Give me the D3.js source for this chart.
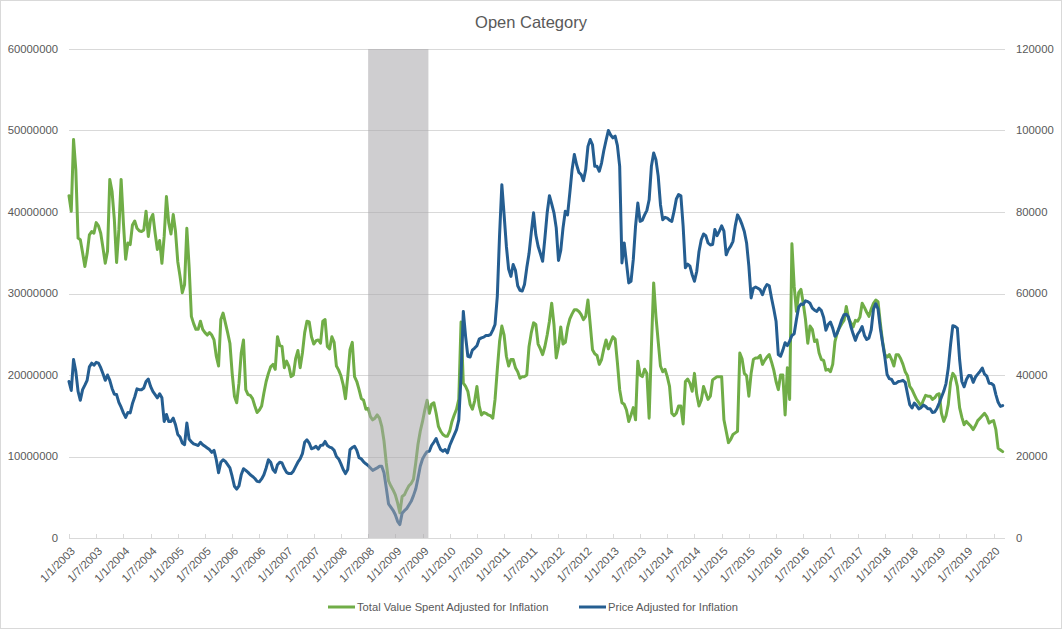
<!DOCTYPE html>
<html>
<head>
<meta charset="utf-8">
<script src="https://cdn.jsdelivr.net/npm/d3@7"></script>
<style>
  html, body { margin: 0; padding: 0; background: #fff; }
  svg { display: block; font-family: "Liberation Sans", Arial, sans-serif; }
</style>
</head>
<body>
<svg id="chart" width="1062" height="629"></svg>
<script>
// ---------------- DATA ----------------
const title = "Open Category";
// Observations are semi-monthly, starting 1 Jan 2003 (index j -> month j/2)
const seriesNames = ["Total Value Spent Adjusted for Inflation", "Price Adjusted for Inflation"];
// Total value spent (millions, left axis)
const totalValueMillions = [
  42.0, 40.1, 48.9, 45.2, 36.8, 36.6, 35.0, 33.3, 34.9, 37.2,
  37.6, 37.4, 38.7, 38.3, 37.4, 35.6, 33.7, 35.2, 44.0, 42.5,
  39.1, 33.8, 37.8, 44.0, 38.7, 34.2, 36.2, 36.0, 38.4, 38.9,
  38.0, 37.7, 37.6, 37.8, 40.1, 37.0, 39.1, 39.7, 37.4, 35.4,
  36.5, 33.7, 37.0, 41.9, 38.7, 37.3, 39.7, 37.6, 33.9, 32.1,
  30.1, 31.1, 38.0, 33.3, 27.2, 26.3, 25.6, 25.6, 26.6, 25.6,
  25.2, 24.9, 25.2, 24.9, 24.3, 22.3, 21.1, 26.8, 27.6, 26.4,
  25.2, 23.9, 20.2, 17.4, 16.6, 19.0, 22.7, 24.3, 18.2, 17.6,
  17.5, 17.1, 16.2, 15.4, 15.7, 16.2, 17.8, 19.2, 20.2, 21.0,
  21.3, 20.7, 24.7, 23.6, 23.5, 20.9, 21.7, 21.1, 19.8, 20.0,
  22.0, 23.0, 20.9, 22.7, 25.2, 26.6, 26.5, 24.7, 23.8, 24.2,
  24.3, 23.9, 26.6, 26.8, 23.5, 23.2, 24.7, 24.0, 21.1, 20.6,
  19.9, 18.8, 17.1, 19.8, 23.1, 24.0, 19.8, 19.2, 18.2, 17.1,
  16.9, 15.8, 15.9, 14.9, 14.5, 14.7, 15.1, 14.7, 13.7, 11.9,
  9.2, 7.0, 6.4, 5.9, 5.3, 4.3, 3.1, 5.1, 5.3, 5.9,
  6.4, 6.7, 7.2, 9.2, 11.5, 13.1, 14.3, 15.7, 16.9, 15.3,
  16.4, 16.6, 15.3, 13.7, 13.1, 12.7, 12.5, 12.5, 13.1, 14.3,
  15.1, 15.8, 17.0, 26.5, 19.0, 18.6, 18.0, 16.4, 15.8, 16.8,
  18.6, 16.2, 15.1, 15.4, 15.3, 15.1, 15.0, 14.7, 17.0, 20.7,
  24.1, 26.0, 24.9, 22.3, 21.1, 21.9, 21.9, 20.9, 20.4, 19.6,
  19.8, 19.8, 20.0, 23.5, 25.2, 26.4, 26.2, 23.8, 23.2, 22.5,
  23.5, 24.9, 26.6, 28.8, 26.2, 22.1, 23.5, 25.9, 23.8, 24.0,
  25.8, 26.9, 27.5, 28.0, 28.0, 27.8, 27.4, 26.8, 27.2, 29.2,
  26.2, 23.1, 22.6, 22.4, 21.3, 21.9, 23.2, 24.3, 23.2, 24.0,
  24.7, 24.4, 21.5, 18.2, 16.6, 16.4, 15.7, 14.3, 15.1, 16.0,
  14.5, 21.7, 20.0, 19.8, 20.7, 20.2, 14.7, 23.5, 31.3, 27.2,
  24.1, 21.1, 20.4, 20.7, 19.8, 18.6, 15.3, 15.0, 15.3, 16.2,
  16.2, 14.0, 19.2, 19.5, 19.0, 18.0, 20.2, 17.6, 16.2, 16.9,
  18.6, 17.8, 17.0, 17.4, 19.4, 19.6, 19.8, 19.8, 19.8, 14.5,
  13.1, 11.7, 12.1, 12.7, 12.9, 13.1, 22.7, 22.0, 20.2, 19.9,
  17.4, 20.2, 21.9, 22.1, 22.1, 22.4, 21.3, 21.8, 22.2, 22.5,
  21.6, 20.6, 19.2, 18.2, 20.0, 20.0, 15.1, 20.9, 17.0, 36.1,
  30.9, 27.8, 30.1, 30.5, 28.8, 26.8, 23.9, 26.0, 25.6, 24.1,
  24.3, 22.7, 21.9, 21.8, 20.6, 20.7, 20.4, 21.3, 24.1, 25.2,
  25.8, 26.3, 26.7, 28.4, 26.9, 26.4, 25.9, 26.7, 26.6, 27.1,
  28.8, 28.3, 27.7, 27.2, 28.1, 28.8, 29.2, 29.0, 26.4, 24.1,
  22.5, 22.2, 22.5, 21.9, 21.1, 22.5, 22.5, 22.0, 21.3, 20.4,
  19.9, 18.6, 18.2, 17.6, 17.0, 16.6, 16.2, 16.9, 17.5, 17.4,
  17.4, 17.0, 17.2, 17.6, 17.7, 15.3, 14.3, 15.0, 16.4, 19.1,
  20.2, 19.8, 18.6, 16.0, 14.8, 13.9, 14.3, 14.0, 13.7, 13.3,
  13.8, 14.4, 14.7, 15.0, 15.3, 14.9, 14.1, 14.3, 14.4, 13.3,
  11.0, 10.8, 10.6
];
// Price adjusted for inflation (thousands, right axis)
const priceThousands = [
  38.4, 36.2, 43.8, 40.9, 36.0, 33.8, 36.4, 37.5, 38.7, 42.0,
  42.9, 42.4, 43.1, 42.9, 41.8, 40.3, 38.7, 40.0, 38.7, 36.7,
  35.3, 35.2, 33.3, 32.1, 30.7, 29.6, 30.8, 30.7, 33.0, 34.6,
  36.6, 36.4, 36.4, 36.8, 38.4, 39.0, 37.2, 36.0, 35.2, 34.4,
  35.4, 34.4, 28.6, 30.3, 28.6, 28.6, 29.4, 27.8, 25.4, 24.8,
  23.3, 22.9, 28.2, 24.3, 23.6, 23.1, 22.9, 22.7, 23.5, 22.9,
  22.5, 22.1, 21.7, 21.0, 21.5, 19.2, 16.0, 18.6, 19.2, 18.8,
  18.0, 17.2, 15.1, 12.7, 12.0, 12.8, 15.5, 17.0, 16.6, 16.1,
  15.5, 15.1, 14.6, 13.9, 13.8, 14.5, 15.5, 17.2, 19.2, 18.6,
  16.8, 16.1, 18.0, 18.6, 18.4, 17.1, 16.1, 15.8, 15.8, 16.4,
  17.5, 18.6, 19.4, 20.7, 23.5, 24.1, 23.3, 21.9, 22.1, 22.5,
  21.8, 22.7, 22.8, 23.7, 22.7, 22.3, 22.1, 21.5, 20.0, 19.4,
  18.2, 16.8, 15.8, 16.8, 21.7, 22.2, 22.5, 21.5, 19.7, 19.4,
  18.7, 18.2, 17.8, 17.2, 16.6, 16.9, 17.2, 17.6, 17.6, 16.0,
  12.3, 8.4, 7.6, 6.8, 5.7, 4.1, 3.3, 6.1, 6.7, 7.2,
  8.1, 9.0, 10.4, 12.0, 14.7, 17.6, 19.4, 20.4, 21.2, 21.3,
  22.7, 23.5, 24.4, 22.9, 21.7, 21.3, 21.7, 20.9, 22.7, 24.0,
  25.3, 26.6, 29.0, 39.7, 55.6, 49.5, 44.6, 44.4, 46.1, 46.6,
  47.2, 48.8, 49.1, 49.3, 49.7, 49.7, 49.9, 51.0, 52.4, 59.3,
  74.4, 86.7, 79.3, 71.6, 66.0, 64.2, 67.1, 65.7, 61.9, 60.8,
  60.6, 62.2, 66.3, 69.8, 75.0, 79.8, 74.4, 71.6, 69.8, 67.9,
  73.6, 79.8, 84.0, 82.0, 79.8, 76.1, 68.1, 70.6, 76.1, 80.2,
  79.3, 84.7, 90.4, 94.1, 91.6, 89.7, 89.2, 87.7, 90.4, 96.1,
  97.8, 96.5, 91.2, 91.2, 90.0, 92.0, 95.1, 97.6, 100.0, 98.9,
  98.2, 98.6, 96.3, 91.2, 67.5, 72.4, 67.5, 62.6, 63.0, 68.3,
  76.5, 82.2, 77.7, 78.0, 79.3, 80.4, 83.0, 91.2, 94.5, 92.8,
  88.8, 81.8, 78.1, 78.7, 78.5, 78.0, 77.7, 80.2, 83.2, 84.3,
  84.0, 76.5, 66.3, 67.2, 66.7, 64.6, 63.0, 65.4, 70.3, 73.2,
  74.6, 74.2, 72.4, 71.9, 72.0, 75.7, 74.2, 75.3, 76.6, 75.3,
  69.5, 70.8, 71.6, 72.8, 76.6, 79.3, 78.3, 76.9, 75.2, 72.4,
  66.7, 58.9, 61.3, 61.6, 61.3, 60.9, 59.7, 61.3, 62.2, 61.9,
  58.9, 56.2, 53.2, 45.0, 44.6, 46.1, 47.9, 47.2, 48.3, 49.7,
  50.1, 53.6, 56.7, 57.4, 57.3, 58.2, 58.0, 57.6, 56.4, 55.9,
  55.6, 56.4, 55.8, 54.1, 51.0, 52.4, 53.0, 51.5, 49.5, 50.3,
  51.9, 53.6, 54.8, 54.9, 54.2, 51.9, 50.1, 48.5, 50.0, 50.8,
  51.9, 49.7, 48.7, 49.1, 51.1, 56.2, 57.5, 56.2, 51.5, 47.9,
  44.4, 40.1, 39.1, 38.9, 37.9, 38.0, 38.4, 38.5, 38.7, 38.2,
  35.4, 32.7, 31.9, 33.1, 32.5, 31.7, 32.0, 32.6, 32.3, 31.7,
  31.7, 30.8, 30.9, 31.8, 33.1, 34.6, 36.0, 37.9, 41.7, 47.4,
  52.1, 51.9, 51.5, 43.8, 38.4, 37.1, 38.9, 39.9, 39.8, 38.2,
  39.5, 40.2, 40.9, 41.7, 40.2, 39.7, 38.0, 37.9, 37.5, 35.2,
  33.3, 32.3, 32.5
];
const xTickLabels = [
  "1/1/2003","1/7/2003","1/1/2004","1/7/2004","1/1/2005","1/7/2005","1/1/2006","1/7/2006",
  "1/1/2007","1/7/2007","1/1/2008","1/7/2008","1/1/2009","1/7/2009","1/1/2010","1/7/2010",
  "1/1/2011","1/7/2011","1/1/2012","1/7/2012","1/1/2013","1/7/2013","1/1/2014","1/7/2014",
  "1/1/2015","1/7/2015","1/1/2016","1/7/2016","1/1/2017","1/7/2017","1/1/2018","1/7/2018",
  "1/1/2019","1/7/2019","1/1/2020"
];
const leftTicks = [0, 10000000, 20000000, 30000000, 40000000, 50000000, 60000000];
const rightTicks = [0, 20000, 40000, 60000, 80000, 100000, 120000];
// Shaded recession period, in months since Jan 2003 (Jul 2008 – Aug 2009)
const recessionMonths = [66, 79.3];

// ---------------- LAYOUT ----------------
const W = 1062, H = 629;
const plot = { left: 69, right: 1005, top: 49, bottom: 538 };
const colors = { total: "#70AD47", price: "#255E91", grid: "#D9D9D9", text: "#595959", band: "#A7A5A9" };

const svg = d3.select("#chart");

svg.append("rect").attr("x", 0.5).attr("y", 0.5).attr("width", W - 1).attr("height", H - 1)
  .attr("fill", "#fff").attr("stroke", "#D9D9D9");

const monthsOf = j => j / 2;
const x = d3.scaleLinear().domain([0, 204]).range([plot.left, 993.6]);
const yL = d3.scaleLinear().domain([0, 60000000]).range([plot.bottom, plot.top]);
const yR = d3.scaleLinear().domain([0, 120000]).range([plot.bottom, plot.top]);

// gridlines
svg.append("g").selectAll("line").data(leftTicks.slice(1)).join("line")
  .attr("x1", plot.left).attr("x2", plot.right)
  .attr("y1", d => Math.round(yL(d)) + 0.5).attr("y2", d => Math.round(yL(d)) + 0.5)
  .attr("stroke", colors.grid).attr("stroke-width", 1);

// x axis baseline and ticks
svg.append("line").attr("x1", plot.left).attr("x2", plot.right)
  .attr("y1", plot.bottom + 0.5).attr("y2", plot.bottom + 0.5)
  .attr("stroke", colors.grid).attr("stroke-width", 1);
svg.append("g").selectAll("line").data(xTickLabels).join("line")
  .attr("x1", (d, i) => Math.round(x(i * 6)) + 0.5).attr("x2", (d, i) => Math.round(x(i * 6)) + 0.5)
  .attr("y1", plot.bottom - 4).attr("y2", plot.bottom)
  .attr("stroke", colors.grid);

// x labels
svg.append("g").selectAll("text").data(xTickLabels).join("text")
  .attr("transform", (d, i) => `translate(${x(i * 6) + 4},${plot.bottom + 11}) rotate(-45)`)
  .attr("text-anchor", "end").attr("dy", "0.35em")
  .attr("font-size", "11.3px").attr("fill", colors.text)
  .text(d => d);

// left axis labels
svg.append("g").selectAll("text").data(leftTicks).join("text")
  .attr("x", 58).attr("y", d => yL(d)).attr("dy", "0.35em")
  .attr("text-anchor", "end").attr("font-size", "11.3px").attr("fill", colors.text)
  .text(d => d3.format("d")(d));

// right axis labels
svg.append("g").selectAll("text").data(rightTicks).join("text")
  .attr("x", 1016).attr("y", d => yR(d)).attr("dy", "0.35em")
  .attr("text-anchor", "start").attr("font-size", "11.3px").attr("fill", colors.text)
  .text(d => d3.format("d")(d));

// lines
const totalData = totalValueMillions.map((v, j) => ({ m: monthsOf(j), v: v * 1e6 }));
const priceData = priceThousands.map((v, j) => ({ m: monthsOf(j), v: v * 1e3 }));

const lineL = d3.line().x(d => x(d.m)).y(d => yL(d.v));
const lineR = d3.line().x(d => x(d.m)).y(d => yR(d.v));

svg.append("path").datum(totalData).attr("d", lineL)
  .attr("fill", "none").attr("stroke", colors.total).attr("stroke-width", 3)
  .attr("stroke-linejoin", "round").attr("stroke-linecap", "round");
svg.append("path").datum(priceData).attr("d", lineR)
  .attr("fill", "none").attr("stroke", colors.price).attr("stroke-width", 3)
  .attr("stroke-linejoin", "round").attr("stroke-linecap", "round");

// recession band (semi-transparent, above the lines)
svg.append("rect")
  .attr("x", x(recessionMonths[0])).attr("width", x(recessionMonths[1]) - x(recessionMonths[0]))
  .attr("y", plot.top).attr("height", plot.bottom - plot.top)
  .attr("fill", colors.band).attr("fill-opacity", 0.55);

// title
svg.append("text").attr("x", 531).attr("y", 28).attr("text-anchor", "middle")
  .attr("font-size", "16.5px").attr("fill", colors.text).text(title);

// legend
const legend = [
  { name: seriesNames[0], color: colors.total, x: 328 },
  { name: seriesNames[1], color: colors.price, x: 579 }
];
const lg = svg.append("g").selectAll("g").data(legend).join("g")
  .attr("transform", d => `translate(${d.x},607)`);
lg.append("line").attr("x1", 0).attr("x2", 27).attr("y1", 0).attr("y2", 0)
  .attr("stroke", d => d.color).attr("stroke-width", 3);
lg.append("text").attr("x", 29).attr("y", 0).attr("dy", "0.35em")
  .attr("font-size", "11.2px").attr("fill", colors.text).text(d => d.name);
</script>
</body>
</html>
